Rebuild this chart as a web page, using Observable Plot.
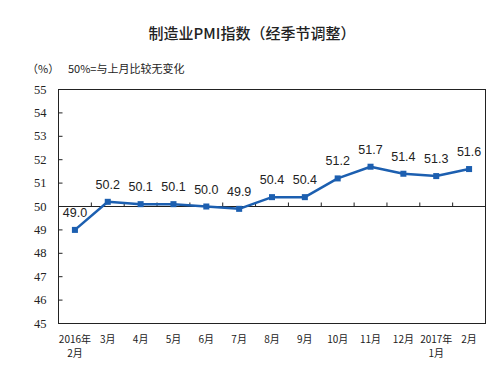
<!DOCTYPE html>
<html>
<head>
<meta charset="utf-8">
<script src="https://cdn.jsdelivr.net/npm/d3@7"></script>
<script src="https://cdn.jsdelivr.net/npm/@observablehq/plot@0.6"></script>
<style>
  html, body { margin: 0; padding: 0; background: #fff; }
  #wrap { position: relative; width: 504px; height: 368px; overflow: hidden; }
  #chart { position: absolute; left: 0; top: 0; }
  .t { position: absolute; white-space: nowrap; color: #222; font-family: "Noto Sans CJK SC", sans-serif; }
  #title { left: 0; width: 504px; top: 22px; text-align: center; font-size: 15px; font-weight: 500; }
  #unit { left: 27px; top: 60px; font-size: 11px; }
  #note { left: 68px; top: 60px; font-size: 11px; }
</style>
</head>
<body>
<div id="wrap">
  <div id="chart"></div>
  <div class="t" id="title">制造业PMI指数（经季节调整）</div>
  <div class="t" id="unit">（%）</div>
  <div class="t" id="note">50%=与上月比较无变化</div>
</div>
<script>
const months = ["2016年\n2月", "3月", "4月", "5月", "6月", "7月", "8月", "9月", "10月", "11月", "12月", "2017年\n1月", "2月"];
const pmi = [49.0, 50.2, 50.1, 50.1, 50.0, 49.9, 50.4, 50.4, 51.2, 51.7, 51.4, 51.3, 51.6];
const yTicks = [45, 46, 47, 48, 49, 50, 51, 52, 53, 54, 55];
const baseline = 50;

const data = months.map((m, i) => ({i, month: m, value: pmi[i]}));
const boundaries = d3.range(1, months.length).map(k => k - 0.5);

const blue = "#1c5fb0";
const upTick = {draw(ctx) { ctx.moveTo(0, 0); ctx.lineTo(0, -4); }};
const rightTick = {draw(ctx) { ctx.moveTo(0, 0); ctx.lineTo(4, 0); }};

const chart = Plot.plot({
  width: 504,
  height: 368,
  marginLeft: 58,
  marginRight: 19,
  marginTop: 89,
  marginBottom: 45,
  style: {background: "transparent", color: "#222"},
  x: {type: "linear", domain: [-0.5, months.length - 0.5], axis: null},
  y: {domain: [45, 55], axis: null},
  marks: [
    Plot.frame({stroke: "#222", strokeWidth: 1}),
    Plot.ruleY([baseline], {stroke: "#222", strokeWidth: 1}),
    Plot.dot(boundaries, {x: d => d, y: () => baseline, symbol: upTick, stroke: "#222", strokeWidth: 1, fill: "none", r: 4}),
    Plot.dot(yTicks, {x: () => -0.5, y: d => d, symbol: rightTick, stroke: "#222", strokeWidth: 1, fill: "none", r: 4}),
    Plot.text(yTicks, {x: () => -0.5, y: d => d, text: d => String(d), textAnchor: "end", dx: -12, fontFamily: "'Liberation Serif', 'Times New Roman', serif", fontSize: 12.5, fill: "#222"}),
    Plot.text(data, {x: "i", text: "month", frameAnchor: "bottom", lineAnchor: "top", dy: 10, fontFamily: "'Noto Sans CJK SC', sans-serif", fontSize: 10, lineHeight: 1.35, fill: "#222"}),
    Plot.line(data, {x: "i", y: "value", stroke: blue, strokeWidth: 2.5, curve: "linear"}),
    Plot.dot(data, {x: "i", y: "value", symbol: "square", fill: blue, r: 3.4}),
    Plot.text(data, {x: "i", y: "value", text: d => d.value.toFixed(1), dy: -17, fontFamily: "'Liberation Sans', Arial, sans-serif", fontSize: 12.5, fill: "#222"})
  ]
});
document.getElementById("chart").appendChild(chart);
</script>
</body>
</html>
